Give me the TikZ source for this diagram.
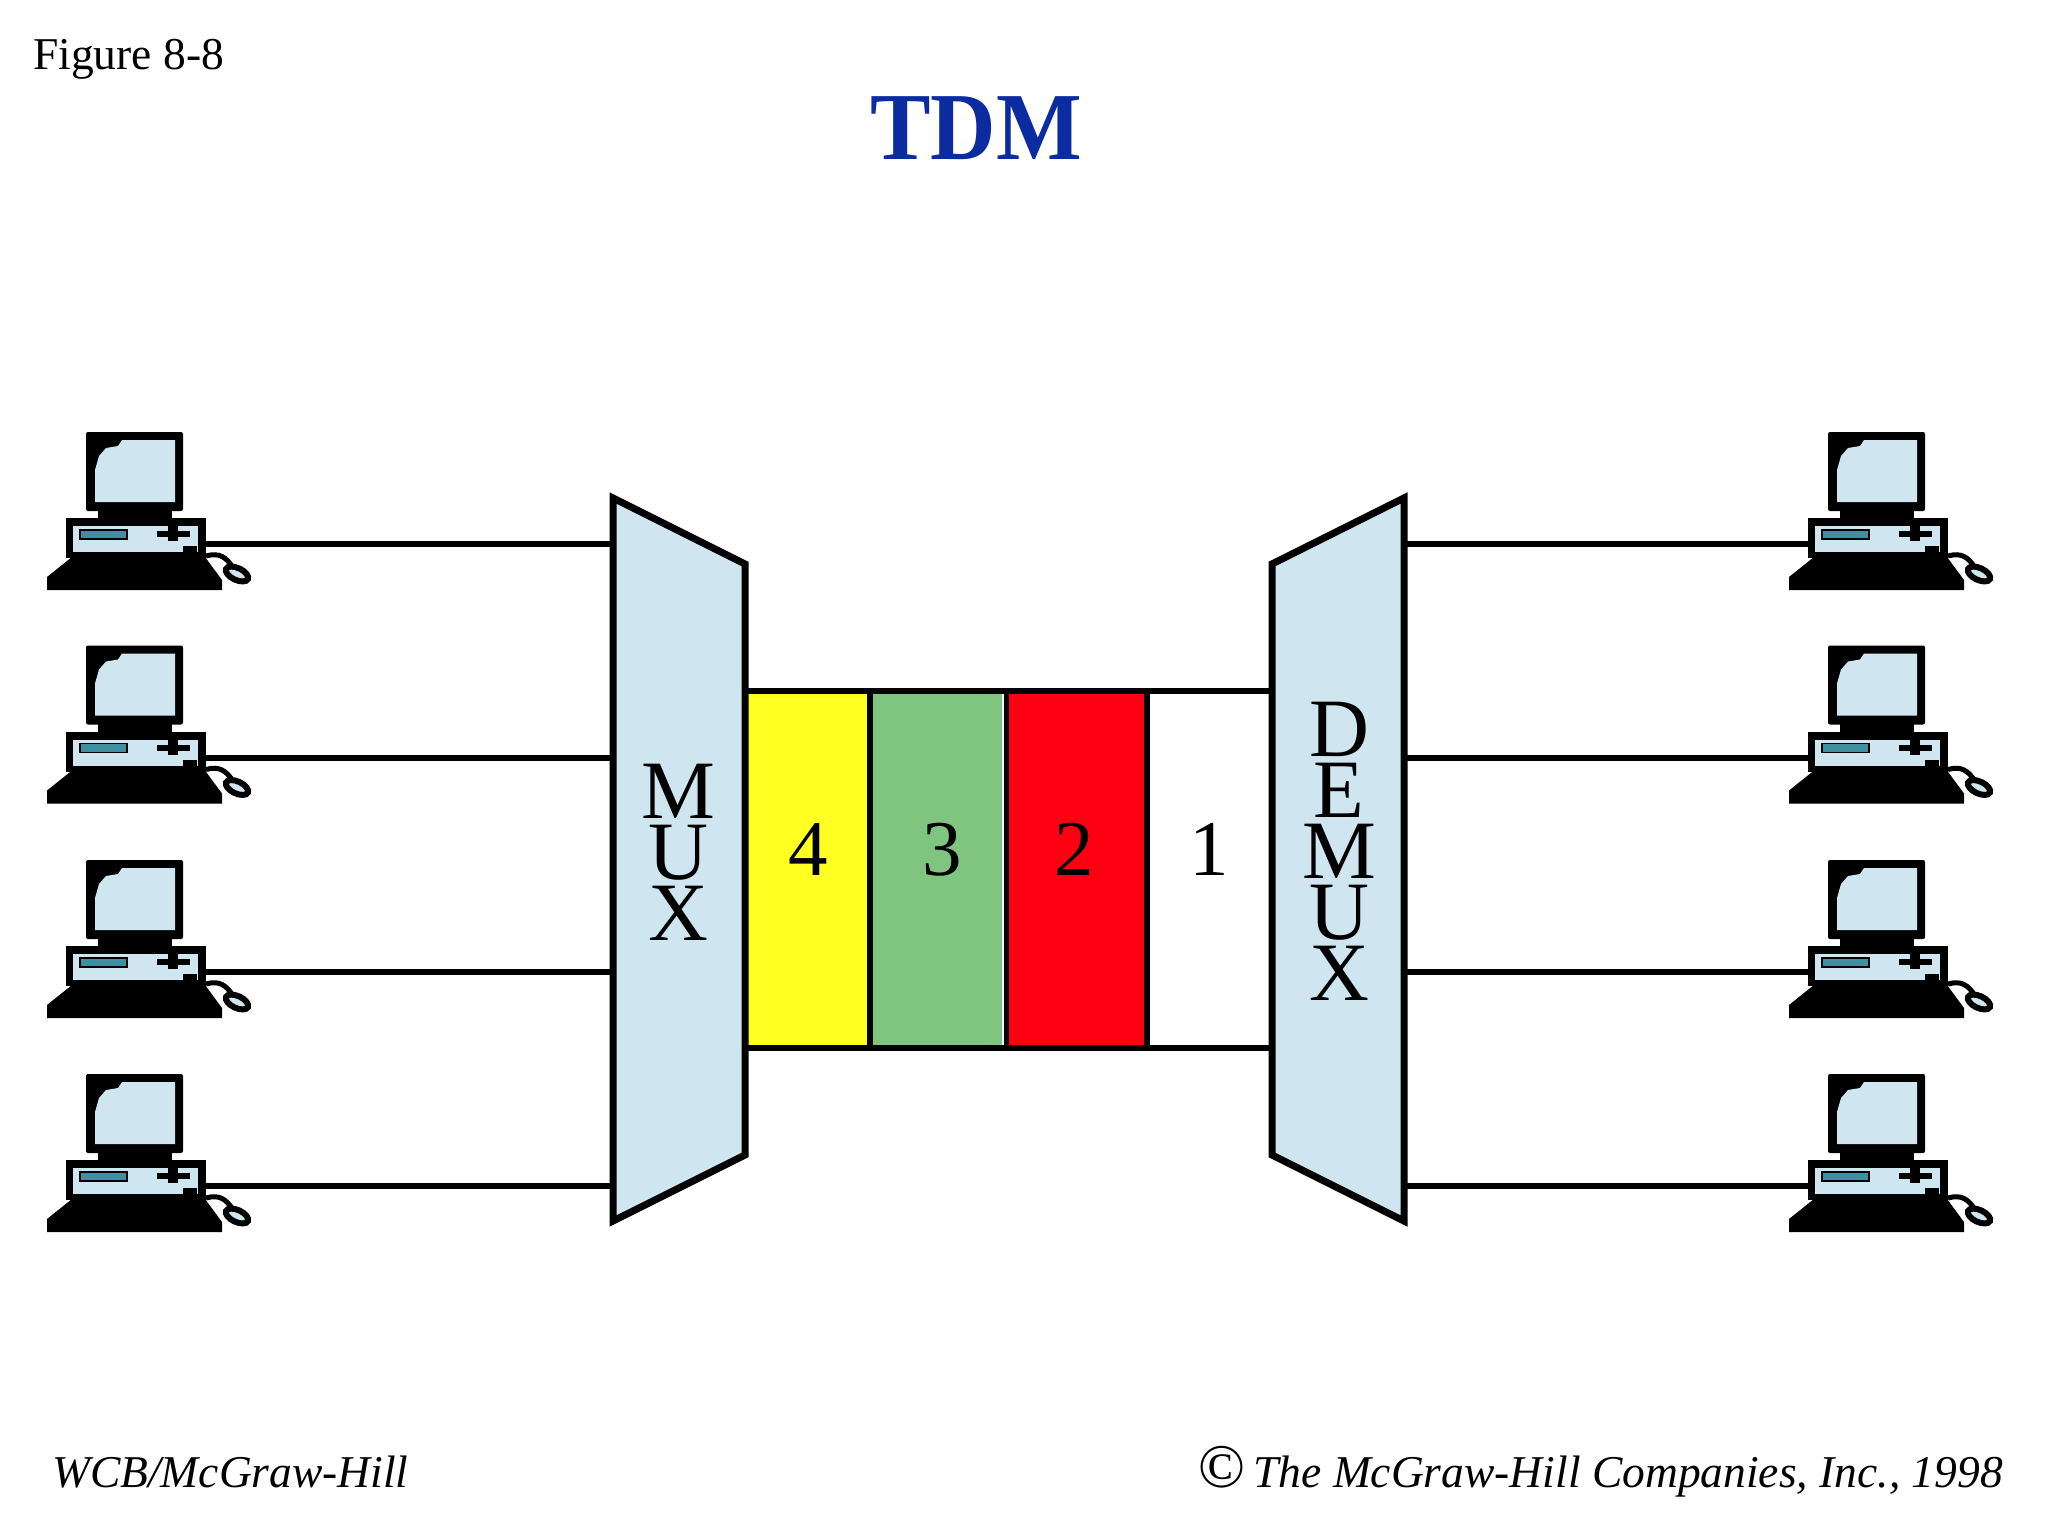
\documentclass[tikz,border=0pt]{standalone}
\usepackage{fontspec}
\setmainfont{Liberation Serif}
\definecolor{paleblue}{HTML}{CFE6F0}
\definecolor{slotyellow}{HTML}{FFFF22}
\definecolor{slotgreen}{HTML}{7FC47F}
\definecolor{slotred}{HTML}{FF0012}
\definecolor{titleblue}{HTML}{0A2CA0}
\definecolor{slotteal}{HTML}{3E8FA0}
\newcommand{\szA}{\fontsize{45.5}{46}\selectfont}
\newcommand{\szB}{\fontsize{79}{60}\selectfont}
\newcommand{\szS}{\fontsize{83}{61}\selectfont}
\newcommand{\szT}{\fontsize{96}{96}\selectfont}
\tikzset{
  x=1pt,y=-1pt,
  wire/.style={line width=6pt,black},
  device/.style={draw=black,line width=7pt,fill=paleblue,line join=miter},
  band/.style={line width=6pt,black},
  big/.style={inner sep=0pt,anchor=base,font=\szB,text=black},
  stack/.style={inner sep=0pt,anchor=center,align=center,font=\szS,text=black},
  foot/.style={inner sep=0pt,font=\szA\itshape,anchor=base},
  computer/.pic={
    % monitor
    \fill[black,rounded corners=2pt] (86,432) rectangle (183,511);
    \fill[paleblue] (122,440) -- (175,440) -- (175,502) -- (95,502) -- (95,470) -- (99,456) -- (106,448) -- (118,446) -- cycle;
    \fill[black] (98,510) rectangle (172,520);
    % case
    \fill[black] (66,518) rectangle (206,558);
    \fill[paleblue] (73,526) rectangle (198,552);
    \fill[slotteal,draw=black,line width=1.5pt] (80,530) rectangle (127,539);
    \fill[black] (157,531) rectangle (190,537);
    \fill[black] (168,526) rectangle (178,541);
    \fill[black] (183,546) rectangle (197,556);
    % keyboard
    \fill[black] (47,577) -- (72,557) -- (205,557) -- (222,580) -- (222,590) -- (47,590) -- cycle;
    % mouse
    \draw[black,line width=5pt] (206,556) .. controls (220,552) and (226,558) .. (232,566);
    \draw[black,line width=6pt,fill=paleblue,rotate around={-25:(237,574)}] (237,574) ellipse (12 and 6);
    \coordinate (-east) at (203,544);
    \coordinate (-west) at (66,544);
  }
}
\begin{document}
\begin{tikzpicture}
\useasboundingbox (0,0) rectangle (2048,1536);
\fill[white] (0,0) rectangle (2048,1536);

\node[inner sep=0pt,anchor=base west,font=\szA] (figlabel) at (33,70) {Figure 8-8};
\node[inner sep=0pt,anchor=base,font=\szT\bfseries,text=titleblue,xscale=0.945] (title) at (976,160) {TDM};

% slots
\fill[slotyellow] (745,691) rectangle (870,1048);
\fill[slotgreen] (870,691) rectangle (1006,1048);
\fill[slotred] (1006,691) rectangle (1147,1048);

% computers
\foreach \i/\dy in {1/0,2/213.5,3/428,4/642}{
  \pic (L\i) at (0,\dy) {computer};
  \pic (R\i) at (1742,\dy) {computer};
}

% device ports
\coordinate (muxtop) at (745,691);
\coordinate (muxbot) at (745,1048);
\coordinate (demuxtop) at (1272,691);
\coordinate (demuxbot) at (1272,1048);
\coordinate (muxleft) at (613,0);
\coordinate (demuxright) at (1404,0);
\foreach \i in {1,2,3,4}{
  \draw[wire] (L\i-east) -- (muxleft |- L\i-east);
  \draw[wire] (demuxright |- R\i-west) -- (R\i-west);
}

% band
\draw[band] (muxtop) -- (demuxtop);
\draw[band] (muxbot) -- (demuxbot);
\draw[band] (870,691) -- (870,1048);
\draw[band] (1006,691) -- (1006,1048);
\draw[band] (1147,691) -- (1147,1048);
\draw[white,line width=2pt] (1002.5,694) -- (1002.5,1045);

% mux devices
\draw[device] (613,498) -- (745,564) -- (745,1155) -- (613,1221) -- cycle;
\draw[device] (1404,498) -- (1272,564) -- (1272,1155) -- (1404,1221) -- cycle;

\node[stack] (muxlabel) at (678,852) {M\\U\\X};
\node[stack] (demuxlabel) at (1339,851) {D\\E\\M\\U\\X};

\node[big] (s4) at (808,875) {4};
\node[big] (s3) at (942,875) {3};
\node[big] (s2) at (1074,875) {2};
\node[big] (s1) at (1209,875) {1};

\node[foot,anchor=base west] (pub) at (52,1487) {WCB/McGraw-Hill};
\node[foot,anchor=base east] (copy) at (2003,1487) {The McGraw-Hill Companies, Inc., 1998};
\node[inner sep=0pt,anchor=base,font=\fontsize{62}{62}\selectfont\itshape] (csym) at (1221,1487) {©};
\end{tikzpicture}
\end{document}
